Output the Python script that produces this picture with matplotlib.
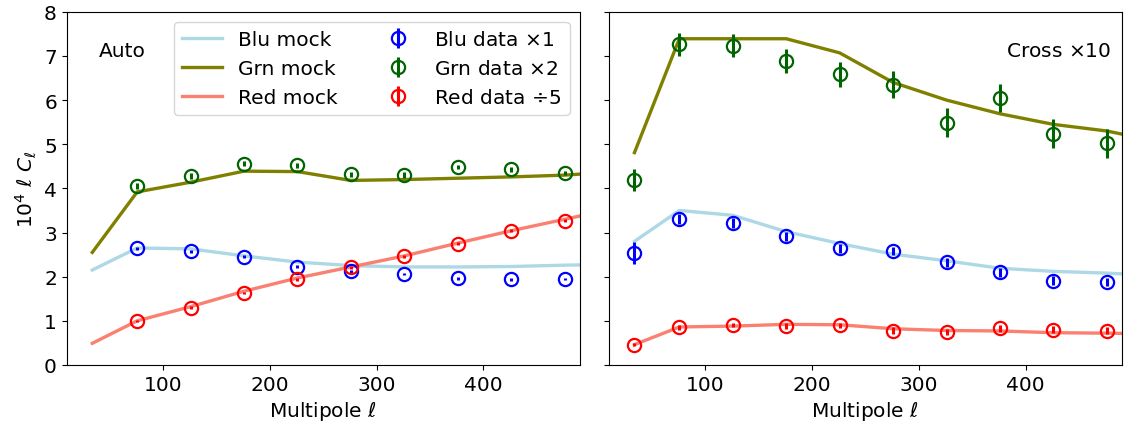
import numpy as np
import matplotlib
matplotlib.use("Agg")
import matplotlib.pyplot as plt

# multipoles
ell_mock = [34, 76, 126, 176, 226, 276, 326, 376, 426, 476, 526]
ell_auto = [76, 126, 176, 226, 276, 326, 376, 426, 476]
ell_cross = [34, 76, 126, 176, 226, 276, 326, 376, 426, 476]

# Auto spectra (10^4 l C_l)
auto_blu_mock = [2.15, 2.65, 2.63, 2.47, 2.33, 2.25, 2.22, 2.22, 2.23, 2.26, 2.28]
auto_grn_mock = [2.55, 3.92, 4.14, 4.39, 4.38, 4.18, 4.20, 4.23, 4.26, 4.30, 4.38]
auto_red_mock = [0.49, 1.00, 1.32, 1.67, 1.97, 2.22, 2.47, 2.76, 3.04, 3.30, 3.56]

auto_blu_data = [2.64, 2.57, 2.45, 2.23, 2.12, 2.06, 1.96, 1.94, 1.95]
auto_blu_err = [0.03, 0.04, 0.03, 0.03, 0.04, 0.03, 0.03, 0.03, 0.03]
auto_grn_data = [4.05, 4.28, 4.56, 4.52, 4.32, 4.30, 4.48, 4.43, 4.35]
auto_grn_err = [0.07, 0.07, 0.06, 0.06, 0.06, 0.06, 0.05, 0.05, 0.05]
auto_red_data = [1.00, 1.30, 1.63, 1.94, 2.21, 2.46, 2.75, 3.04, 3.27]
auto_red_err = [0.02, 0.03, 0.03, 0.03, 0.04, 0.03, 0.03, 0.03, 0.03]

# Cross spectra x10
cross_blu_mock = [2.80, 3.50, 3.39, 3.02, 2.75, 2.51, 2.36, 2.19, 2.12, 2.08, 2.02]
cross_grn_mock = [4.81, 7.39, 7.39, 7.39, 7.07, 6.40, 6.00, 5.69, 5.45, 5.30, 5.05]
cross_red_mock = [0.46, 0.86, 0.88, 0.92, 0.91, 0.82, 0.78, 0.77, 0.73, 0.72, 0.70]

cross_blu_data = [2.53, 3.30, 3.22, 2.91, 2.64, 2.58, 2.33, 2.10, 1.91, 1.88]
cross_blu_err = [0.25, 0.11, 0.11, 0.11, 0.11, 0.10, 0.10, 0.10, 0.10, 0.10]
cross_grn_data = [4.19, 7.27, 7.23, 6.89, 6.58, 6.35, 5.49, 6.04, 5.24, 5.02]
cross_grn_err = [0.25, 0.26, 0.26, 0.27, 0.29, 0.31, 0.32, 0.32, 0.33, 0.33]
cross_red_data = [0.46, 0.85, 0.90, 0.88, 0.90, 0.78, 0.74, 0.83, 0.80, 0.77]
cross_red_err = [0.04, 0.05, 0.05, 0.06, 0.06, 0.07, 0.07, 0.08, 0.08, 0.08]

mock_names = ["Blu mock", "Grn mock", "Red mock"]
data_names = [r"Blu data $\times$1", r"Grn data $\times$2", r"Red data $\div$5"]
mock_colors = ["lightblue", "olive", "salmon"]
data_colors = ["blue", "darkgreen", "red"]

plt.rcParams["font.size"] = 14.5

fig, axes = plt.subplots(1, 2, figsize=(11.24, 4.27), dpi=100, sharey=True)
fig.subplots_adjust(left=0.0593, right=0.998, bottom=0.143, top=0.970, wspace=0.057)


def draw_panel(ax, mocks, datas, errs, ell_data):
    for m, c, lab in zip(mocks, mock_colors, mock_names):
        ax.plot(ell_mock, m, color=c, lw=2.4, label=lab)
    for d, e, c, lab in zip(datas, errs, data_colors, data_names):
        ax.errorbar(ell_data, d, yerr=e, fmt="o", mfc="none", mec=c, ecolor=c,
                    ms=9.5, mew=1.6, elinewidth=2.2, capsize=0, label=lab)
    ax.set_xlim(10, 490)
    ax.set_ylim(0, 8)
    ax.set_xticks([100, 200, 300, 400])
    ax.set_xlabel(r"Multipole $\ell$")


ax = axes[0]
draw_panel(ax, [auto_blu_mock, auto_grn_mock, auto_red_mock],
           [auto_blu_data, auto_grn_data, auto_red_data],
           [auto_blu_err, auto_grn_err, auto_red_err], ell_auto)
ax.set_ylabel(r"$10^4\ \ell\ C_\ell$")
ax.text(0.063, 0.89, "Auto", transform=ax.transAxes, va="center", ha="left")
ax.legend(ncol=2, loc="upper right", numpoints=1)

ax = axes[1]
draw_panel(ax, [cross_blu_mock, cross_grn_mock, cross_red_mock],
           [cross_blu_data, cross_grn_data, cross_red_data],
           [cross_blu_err, cross_grn_err, cross_red_err], ell_cross)
ax.text(0.98, 0.89, r"Cross $\times$10", transform=ax.transAxes, va="center", ha="right")

plt.savefig("out.png", dpi=100)
